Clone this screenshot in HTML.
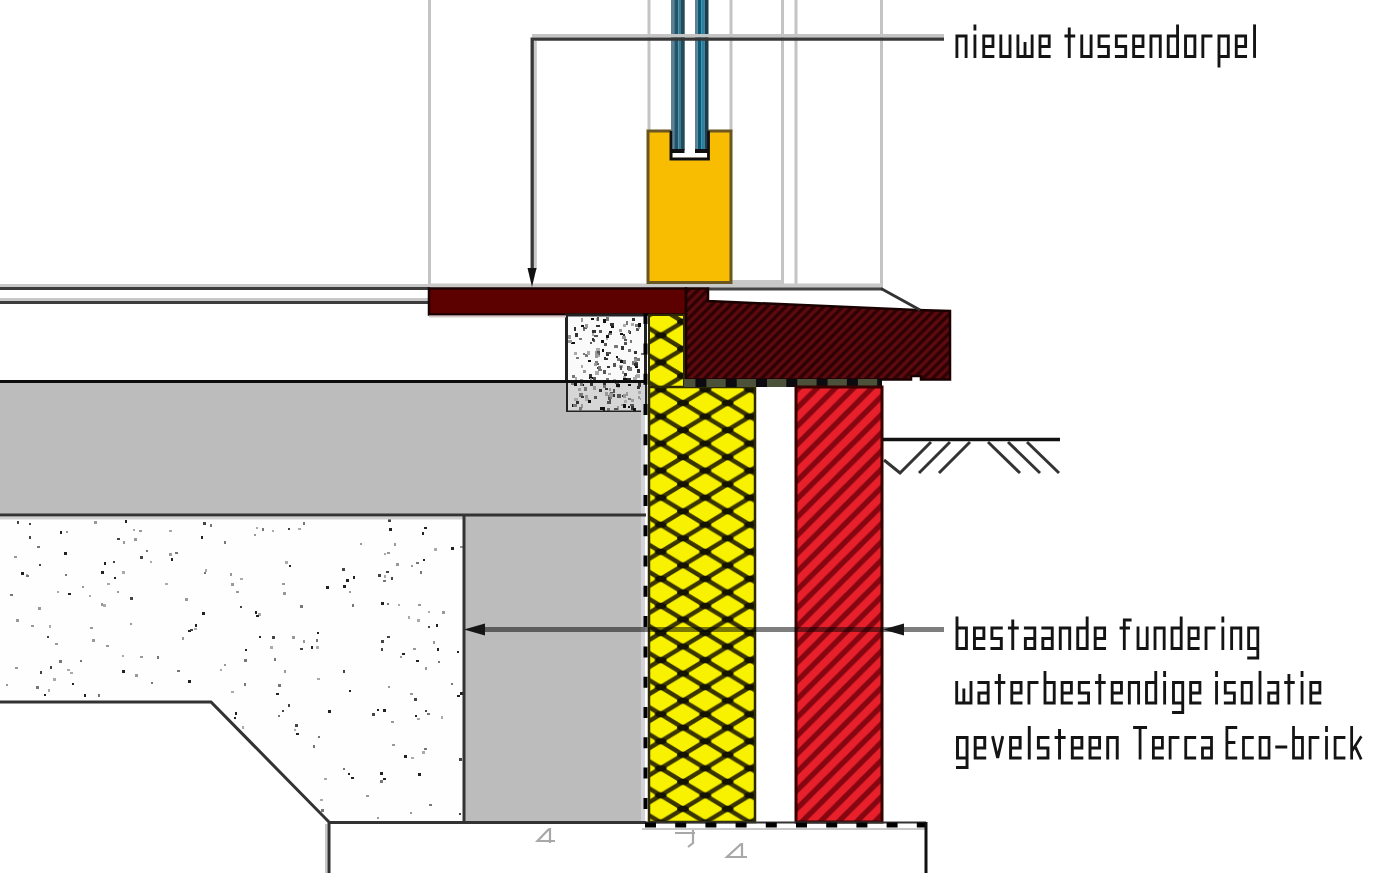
<!DOCTYPE html>
<html><head><meta charset="utf-8">
<style>
html,body{margin:0;padding:0;background:#fff;width:1400px;height:873px;overflow:hidden}
svg{display:block}
text{font-family:"Liberation Sans",sans-serif;fill:#1c1c1c}
</style></head><body>
<svg width="1400" height="873" viewBox="0 0 1400 873">
<defs>
<pattern id="ins" patternUnits="userSpaceOnUse" x="683" y="403" width="44.6" height="27.06">
<rect x="0" y="0" width="44.6" height="27.06" fill="#f8f200"/>
<path d="M-22.3,-13.53 L66.9,40.59 M66.9,-13.53 L-22.3,40.59" stroke="#3a3500" stroke-width="4.4" fill="none"/>
<g fill="#141200"><ellipse cx="0" cy="0" rx="6" ry="3.2"/><ellipse cx="44.6" cy="0" rx="6" ry="3.2"/><ellipse cx="0" cy="27.06" rx="6" ry="3.2"/><ellipse cx="44.6" cy="27.06" rx="6" ry="3.2"/><ellipse cx="22.3" cy="13.53" rx="6" ry="3.2"/></g>
</pattern>
<pattern id="brick" patternUnits="userSpaceOnUse" x="4" y="0" width="18.2" height="18.2">
<rect width="18.2" height="18.2" fill="#e7202b"/>
<path d="M-9.1,9.1 L9.1,-9.1 M-9.1,27.3 L27.3,-9.1 M9.1,27.3 L27.3,9.1" stroke="#850610" stroke-width="5.4"/>
</pattern>
<pattern id="sill" patternUnits="userSpaceOnUse" x="0" y="0" width="9.5" height="9.5">
<rect width="9.5" height="9.5" fill="#5e0a0e"/>
<path d="M-4.75,4.75 L4.75,-4.75 M-4.75,14.25 L14.25,-4.75 M4.75,14.25 L14.25,4.75" stroke="#2c0204" stroke-width="3.4"/>
</pattern>
</defs>
<rect width="1400" height="873" fill="#fff"/>

<!-- window frame gray lines -->
<g stroke="#c4c4c4" stroke-width="3" fill="none">
<line x1="429.5" y1="0" x2="429.5" y2="288"/>
<line x1="649" y1="0" x2="649" y2="131"/>
<line x1="731" y1="0" x2="731" y2="131"/>
<line x1="782.5" y1="0" x2="782.5" y2="285"/>
<line x1="796" y1="0" x2="796" y2="288"/>
<line x1="881.5" y1="0" x2="881.5" y2="288"/>
</g>
<rect x="731" y="280" width="51" height="8" fill="#c8c8c8"/>
<rect x="429" y="283.5" width="453" height="4.5" fill="#c8c8c8"/>

<!-- yellow frame block -->
<path d="M648,131 L671,131 L671,159 L708.5,159 L708.5,131 L731,131 L731,282.5 L648,282.5 Z" fill="#f8bd00" stroke="#6a5622" stroke-width="3"/>
<!-- glass -->
<rect x="671" y="0" width="3.2" height="150" fill="#5f8090"/>
<rect x="674.2" y="0" width="4.1" height="150" fill="#1f5470"/>
<rect x="678.3" y="0" width="2.7" height="150" fill="#3b7b8f"/>
<rect x="681" y="0" width="3.7" height="150" fill="#1f4b5a"/>
<rect x="695" y="0" width="2.8" height="150" fill="#5f8090"/>
<rect x="697.8" y="0" width="3.4" height="150" fill="#08597a"/>
<rect x="701.2" y="0" width="3.7" height="150" fill="#2b80a0"/>
<rect x="704.9" y="0" width="3.6" height="150" fill="#1f3c4a"/>
<rect x="670.5" y="149" width="14" height="4" fill="#101010"/>
<rect x="695" y="149" width="14" height="4" fill="#101010"/>
<path d="M671,131 V159 H708.5 V131" fill="none" stroke="#101010" stroke-width="2.5"/>
<rect x="673" y="153" width="34" height="4" fill="#fff"/>

<!-- leader top -->
<rect x="533.8" y="41" width="3" height="229" fill="#c8c8c8"/>
<rect x="532" y="34" width="412" height="3.5" fill="#c4c4c4"/>
<polyline points="944,39.2 532.2,39.2 532.2,272" stroke="#383838" stroke-width="3.3" fill="none"/>
<path d="M527.5,268 L536.5,268 L532,287 Z" fill="#111"/>

<!-- left floor lines -->
<rect x="0" y="284" width="430" height="3" fill="#c8c8c8"/>
<rect x="0" y="287" width="430" height="3" fill="#3c3c3c"/>
<rect x="0" y="298" width="430" height="3" fill="#c8c8c8"/>
<rect x="0" y="301" width="430" height="3" fill="#3c3c3c"/>

<!-- frame bottom line right of yellow -->
<rect x="708" y="287.5" width="174" height="3" fill="#444"/>

<!-- beam -->
<rect x="429" y="288.5" width="257" height="26" fill="#5c0000" stroke="#1a0000" stroke-width="2.5"/>

<!-- hatched sill -->
<path d="M686,288.5 L708,288.5 L708,301 L917,310 L950,311 L950,379.5 L921,379.5 L921,376 L911,376 L911,379.5 L686,379.5 Z" fill="url(#sill)" stroke="#1a0000" stroke-width="2.5"/>
<path d="M881,288.5 L920,310" stroke="#333" stroke-width="3"/>

<!-- small concrete block -->
<rect x="566" y="315" width="80" height="97" fill="#fafafa"/>
<rect x="566" y="382" width="80" height="30" fill="#d6d6d6"/>
<rect x="626" y="392" width="2" height="4" fill="#999"/>
<rect x="628" y="349" width="2" height="3" fill="#aaa"/>
<rect x="635" y="324" width="3" height="3" fill="#777"/>
<rect x="605" y="392" width="3" height="4" fill="#999"/>
<rect x="594" y="396" width="3" height="3" fill="#555"/>
<rect x="631" y="406" width="3" height="4" fill="#333"/>
<rect x="575" y="377" width="2" height="4" fill="#aaa"/>
<rect x="611" y="325" width="3" height="3" fill="#111"/>
<rect x="598" y="353" width="2" height="4" fill="#aaa"/>
<rect x="568" y="335" width="3" height="4" fill="#999"/>
<rect x="606" y="352" width="3" height="4" fill="#333"/>
<rect x="609" y="388" width="2" height="3" fill="#999"/>
<rect x="592" y="330" width="4" height="3" fill="#333"/>
<rect x="603" y="382" width="3" height="3" fill="#333"/>
<rect x="593" y="377" width="3" height="3" fill="#555"/>
<rect x="590" y="383" width="3" height="3" fill="#333"/>
<rect x="624" y="373" width="3" height="3" fill="#333"/>
<rect x="592" y="333" width="2" height="3" fill="#aaa"/>
<rect x="574" y="352" width="3" height="3" fill="#aaa"/>
<rect x="590" y="342" width="2" height="2" fill="#555"/>
<rect x="583" y="353" width="2" height="2" fill="#777"/>
<rect x="634" y="357" width="3" height="3" fill="#777"/>
<rect x="585" y="398" width="4" height="3" fill="#aaa"/>
<rect x="624" y="400" width="3" height="3" fill="#aaa"/>
<rect x="576" y="357" width="3" height="2" fill="#777"/>
<rect x="585" y="354" width="3" height="3" fill="#777"/>
<rect x="635" y="365" width="3" height="3" fill="#111"/>
<rect x="597" y="363" width="2" height="2" fill="#555"/>
<rect x="609" y="331" width="3" height="3" fill="#111"/>
<rect x="634" y="359" width="3" height="4" fill="#999"/>
<rect x="596" y="348" width="4" height="3" fill="#aaa"/>
<rect x="581" y="365" width="2" height="3" fill="#aaa"/>
<rect x="571" y="342" width="4" height="2" fill="#111"/>
<rect x="572" y="404" width="3" height="3" fill="#111"/>
<rect x="584" y="387" width="3" height="4" fill="#777"/>
<rect x="583" y="328" width="2" height="3" fill="#777"/>
<rect x="617" y="385" width="3" height="3" fill="#aaa"/>
<rect x="617" y="394" width="4" height="4" fill="#555"/>
<rect x="627" y="378" width="4" height="3" fill="#333"/>
<rect x="587" y="351" width="3" height="4" fill="#aaa"/>
<rect x="624" y="342" width="3" height="3" fill="#555"/>
<rect x="604" y="357" width="2" height="3" fill="#333"/>
<rect x="640" y="398" width="2" height="2" fill="#999"/>
<rect x="638" y="391" width="3" height="3" fill="#aaa"/>
<rect x="613" y="379" width="3" height="2" fill="#aaa"/>
<rect x="589" y="374" width="3" height="3" fill="#333"/>
<rect x="628" y="349" width="3" height="3" fill="#777"/>
<rect x="629" y="331" width="2" height="3" fill="#333"/>
<rect x="606" y="336" width="2" height="4" fill="#aaa"/>
<rect x="637" y="369" width="3" height="4" fill="#333"/>
<rect x="632" y="361" width="2" height="4" fill="#777"/>
<rect x="638" y="383" width="3" height="4" fill="#333"/>
<rect x="609" y="399" width="2" height="3" fill="#555"/>
<rect x="603" y="370" width="3" height="4" fill="#555"/>
<rect x="620" y="333" width="3" height="2" fill="#111"/>
<rect x="615" y="381" width="3" height="2" fill="#999"/>
<rect x="605" y="388" width="3" height="2" fill="#333"/>
<rect x="623" y="376" width="3" height="2" fill="#aaa"/>
<rect x="595" y="361" width="3" height="3" fill="#777"/>
<rect x="593" y="339" width="2" height="3" fill="#555"/>
<rect x="594" y="363" width="3" height="3" fill="#999"/>
<rect x="594" y="335" width="4" height="2" fill="#555"/>
<rect x="581" y="384" width="3" height="2" fill="#111"/>
<rect x="598" y="369" width="4" height="2" fill="#777"/>
<rect x="581" y="404" width="2" height="4" fill="#999"/>
<rect x="578" y="380" width="2" height="3" fill="#111"/>
<rect x="619" y="359" width="3" height="2" fill="#aaa"/>
<rect x="581" y="319" width="2" height="2" fill="#555"/>
<rect x="636" y="328" width="3" height="3" fill="#555"/>
<rect x="581" y="318" width="2" height="4" fill="#999"/>
<rect x="617" y="406" width="2" height="4" fill="#999"/>
<rect x="608" y="395" width="4" height="4" fill="#777"/>
<rect x="571" y="381" width="3" height="4" fill="#777"/>
<rect x="610" y="323" width="4" height="3" fill="#333"/>
<rect x="616" y="356" width="2" height="2" fill="#111"/>
<rect x="583" y="327" width="4" height="2" fill="#555"/>
<rect x="624" y="339" width="3" height="2" fill="#555"/>
<rect x="628" y="384" width="3" height="2" fill="#555"/>
<rect x="616" y="384" width="4" height="3" fill="#111"/>
<rect x="631" y="323" width="3" height="3" fill="#aaa"/>
<rect x="614" y="408" width="4" height="2" fill="#555"/>
<rect x="595" y="371" width="4" height="4" fill="#aaa"/>
<rect x="579" y="409" width="2" height="3" fill="#aaa"/>
<rect x="579" y="393" width="4" height="4" fill="#777"/>
<rect x="642" y="391" width="3" height="3" fill="#555"/>
<rect x="622" y="395" width="3" height="2" fill="#333"/>
<rect x="614" y="345" width="4" height="3" fill="#777"/>
<rect x="597" y="351" width="3" height="4" fill="#555"/>
<rect x="621" y="346" width="3" height="4" fill="#333"/>
<rect x="613" y="394" width="2" height="3" fill="#333"/>
<rect x="631" y="399" width="3" height="3" fill="#999"/>
<rect x="621" y="404" width="3" height="2" fill="#999"/>
<rect x="610" y="392" width="3" height="3" fill="#555"/>
<rect x="615" y="381" width="4" height="3" fill="#555"/>
<rect x="597" y="367" width="3" height="2" fill="#333"/>
<rect x="598" y="366" width="3" height="3" fill="#777"/>
<rect x="606" y="335" width="3" height="3" fill="#111"/>
<rect x="580" y="383" width="3" height="3" fill="#777"/>
<rect x="628" y="398" width="3" height="2" fill="#777"/>
<rect x="596" y="325" width="4" height="2" fill="#333"/>
<rect x="591" y="318" width="3" height="2" fill="#111"/>
<rect x="635" y="362" width="3" height="3" fill="#555"/>
<rect x="600" y="407" width="3" height="3" fill="#111"/>
<rect x="596" y="318" width="2" height="3" fill="#aaa"/>
<rect x="603" y="407" width="2" height="4" fill="#111"/>
<rect x="623" y="324" width="3" height="3" fill="#aaa"/>
<rect x="573" y="404" width="4" height="3" fill="#777"/>
<rect x="634" y="351" width="3" height="3" fill="#333"/>
<rect x="569" y="340" width="3" height="2" fill="#999"/>
<rect x="638" y="396" width="2" height="3" fill="#999"/>
<rect x="623" y="378" width="4" height="2" fill="#111"/>
<rect x="578" y="388" width="3" height="3" fill="#999"/>
<rect x="613" y="389" width="2" height="4" fill="#555"/>
<rect x="596" y="353" width="3" height="4" fill="#777"/>
<rect x="579" y="338" width="3" height="2" fill="#777"/>
<rect x="623" y="334" width="2" height="3" fill="#333"/>
<rect x="572" y="375" width="3" height="3" fill="#777"/>
<rect x="597" y="317" width="2" height="4" fill="#555"/>
<rect x="592" y="338" width="2" height="3" fill="#333"/>
<rect x="593" y="386" width="3" height="4" fill="#999"/>
<rect x="637" y="358" width="3" height="3" fill="#777"/>
<rect x="599" y="330" width="3" height="3" fill="#555"/>
<rect x="630" y="340" width="2" height="3" fill="#777"/>
<rect x="638" y="326" width="2" height="3" fill="#999"/>
<rect x="604" y="343" width="3" height="3" fill="#555"/>
<rect x="601" y="340" width="3" height="3" fill="#111"/>
<rect x="597" y="355" width="3" height="2" fill="#aaa"/>
<rect x="617" y="358" width="3" height="3" fill="#777"/>
<rect x="608" y="333" width="4" height="2" fill="#777"/>
<rect x="583" y="370" width="3" height="3" fill="#999"/>
<rect x="628" y="384" width="3" height="2" fill="#111"/>
<rect x="637" y="386" width="3" height="3" fill="#333"/>
<rect x="577" y="380" width="3" height="3" fill="#333"/>
<rect x="608" y="397" width="2" height="3" fill="#555"/>
<rect x="589" y="377" width="4" height="2" fill="#111"/>
<rect x="599" y="389" width="3" height="3" fill="#333"/>
<rect x="581" y="396" width="3" height="2" fill="#333"/>
<rect x="622" y="371" width="2" height="3" fill="#999"/>
<rect x="641" y="409" width="2" height="2" fill="#555"/>
<rect x="623" y="394" width="3" height="4" fill="#999"/>
<rect x="626" y="321" width="2" height="4" fill="#777"/>
<rect x="607" y="366" width="3" height="2" fill="#333"/>
<rect x="581" y="325" width="3" height="2" fill="#111"/>
<rect x="574" y="383" width="3" height="3" fill="#111"/>
<rect x="633" y="377" width="4" height="3" fill="#aaa"/>
<rect x="602" y="349" width="2" height="3" fill="#111"/>
<rect x="588" y="360" width="3" height="2" fill="#111"/>
<rect x="576" y="401" width="3" height="3" fill="#333"/>
<rect x="620" y="360" width="4" height="3" fill="#111"/>
<rect x="641" y="353" width="4" height="2" fill="#777"/>
<rect x="595" y="354" width="3" height="4" fill="#999"/>
<rect x="630" y="404" width="4" height="2" fill="#555"/>
<rect x="607" y="408" width="3" height="3" fill="#777"/>
<rect x="575" y="333" width="3" height="4" fill="#333"/>
<rect x="606" y="317" width="3" height="4" fill="#777"/>
<rect x="628" y="406" width="2" height="2" fill="#111"/>
<rect x="635" y="375" width="3" height="2" fill="#999"/>
<rect x="574" y="327" width="2" height="4" fill="#333"/>
<rect x="590" y="378" width="2" height="2" fill="#999"/>
<rect x="638" y="323" width="3" height="4" fill="#111"/>
<rect x="607" y="401" width="4" height="3" fill="#555"/>
<rect x="585" y="324" width="3" height="4" fill="#999"/>
<rect x="622" y="336" width="4" height="3" fill="#999"/>
<rect x="623" y="360" width="3" height="4" fill="#777"/>
<rect x="632" y="318" width="3" height="3" fill="#333"/>
<rect x="607" y="352" width="4" height="2" fill="#555"/>
<rect x="579" y="407" width="3" height="3" fill="#777"/>
<rect x="588" y="400" width="3" height="3" fill="#111"/>
<rect x="628" y="330" width="2" height="3" fill="#777"/>
<rect x="619" y="365" width="4" height="3" fill="#aaa"/>
<rect x="627" y="366" width="3" height="4" fill="#555"/>
<rect x="619" y="329" width="3" height="3" fill="#999"/>
<rect x="574" y="398" width="4" height="3" fill="#aaa"/>
<rect x="623" y="404" width="3" height="4" fill="#111"/>
<rect x="613" y="363" width="3" height="4" fill="#555"/>
<rect x="636" y="374" width="4" height="4" fill="#aaa"/>
<rect x="603" y="385" width="3" height="3" fill="#777"/>
<rect x="608" y="373" width="3" height="2" fill="#aaa"/>
<rect x="634" y="363" width="4" height="3" fill="#333"/>
<rect x="609" y="393" width="4" height="4" fill="#999"/>
<rect x="585" y="395" width="3" height="3" fill="#999"/>
<rect x="633" y="408" width="3" height="4" fill="#111"/>
<rect x="568" y="340" width="4" height="3" fill="#999"/>
<rect x="628" y="367" width="4" height="4" fill="#777"/>
<rect x="603" y="319" width="3" height="4" fill="#111"/>
<rect x="620" y="366" width="2" height="4" fill="#555"/>
<rect x="606" y="378" width="3" height="3" fill="#777"/>
<rect x="605" y="358" width="3" height="2" fill="#333"/>
<rect x="595" y="351" width="2" height="3" fill="#999"/>
<rect x="580" y="379" width="3" height="3" fill="#999"/>
<rect x="566.5" y="315" width="79" height="97" fill="none" stroke="#222" stroke-width="3"/>

<!-- gray slab -->
<rect x="0" y="383" width="566" height="132" fill="#bcbcbc"/>
<rect x="566" y="412" width="76" height="103" fill="#bcbcbc"/>
<rect x="0" y="380" width="646" height="3" fill="#0c0c0c"/>

<!-- foundation -->
<path d="M0,516 L464,516 L464,822 L329,822 L211,702 L0,702 Z" fill="#fefefe"/>
<rect x="150" y="561" width="2" height="2" fill="#aaa"/>
<rect x="44" y="694" width="2" height="2" fill="#222"/>
<rect x="201" y="536" width="2" height="3" fill="#222"/>
<rect x="384" y="553" width="2" height="2" fill="#aaa"/>
<rect x="272" y="530" width="2" height="2" fill="#aaa"/>
<rect x="398" y="604" width="2" height="2" fill="#aaa"/>
<rect x="84" y="694" width="2" height="3" fill="#222"/>
<rect x="254" y="534" width="2" height="2" fill="#999"/>
<rect x="316" y="646" width="3" height="3" fill="#aaa"/>
<rect x="428" y="626" width="2" height="2" fill="#444"/>
<rect x="38" y="607" width="3" height="3" fill="#999"/>
<rect x="55" y="643" width="3" height="2" fill="#999"/>
<rect x="36" y="686" width="3" height="3" fill="#777"/>
<rect x="276" y="693" width="3" height="2" fill="#222"/>
<rect x="438" y="661" width="2" height="2" fill="#777"/>
<rect x="381" y="602" width="3" height="3" fill="#222"/>
<rect x="436" y="624" width="2" height="3" fill="#222"/>
<rect x="101" y="603" width="2" height="3" fill="#999"/>
<rect x="425" y="667" width="2" height="3" fill="#999"/>
<rect x="380" y="780" width="3" height="3" fill="#777"/>
<rect x="317" y="632" width="2" height="2" fill="#222"/>
<rect x="82" y="586" width="2" height="2" fill="#999"/>
<rect x="386" y="571" width="3" height="2" fill="#444"/>
<rect x="194" y="628" width="3" height="2" fill="#aaa"/>
<rect x="441" y="716" width="2" height="3" fill="#aaa"/>
<rect x="182" y="637" width="2" height="3" fill="#999"/>
<rect x="29" y="536" width="2" height="3" fill="#444"/>
<rect x="48" y="689" width="2" height="3" fill="#aaa"/>
<rect x="285" y="561" width="3" height="3" fill="#aaa"/>
<rect x="169" y="553" width="3" height="3" fill="#999"/>
<rect x="224" y="541" width="2" height="3" fill="#777"/>
<rect x="240" y="578" width="3" height="2" fill="#aaa"/>
<rect x="424" y="748" width="3" height="2" fill="#777"/>
<rect x="165" y="583" width="3" height="2" fill="#aaa"/>
<rect x="377" y="817" width="2" height="2" fill="#999"/>
<rect x="343" y="585" width="3" height="3" fill="#222"/>
<rect x="459" y="758" width="3" height="3" fill="#444"/>
<rect x="321" y="809" width="3" height="3" fill="#777"/>
<rect x="37" y="546" width="3" height="2" fill="#777"/>
<rect x="418" y="773" width="3" height="3" fill="#222"/>
<rect x="387" y="552" width="3" height="2" fill="#999"/>
<rect x="413" y="648" width="3" height="2" fill="#999"/>
<rect x="39" y="564" width="2" height="2" fill="#444"/>
<rect x="274" y="658" width="2" height="3" fill="#777"/>
<rect x="72" y="683" width="2" height="2" fill="#222"/>
<rect x="383" y="580" width="3" height="2" fill="#777"/>
<rect x="151" y="682" width="2" height="2" fill="#777"/>
<rect x="417" y="718" width="3" height="2" fill="#aaa"/>
<rect x="70" y="672" width="3" height="2" fill="#aaa"/>
<rect x="80" y="660" width="2" height="2" fill="#777"/>
<rect x="317" y="678" width="3" height="2" fill="#aaa"/>
<rect x="26" y="574" width="2" height="2" fill="#aaa"/>
<rect x="210" y="524" width="2" height="3" fill="#777"/>
<rect x="284" y="670" width="2" height="3" fill="#999"/>
<rect x="236" y="591" width="3" height="2" fill="#999"/>
<rect x="64" y="552" width="3" height="3" fill="#222"/>
<rect x="311" y="646" width="2" height="3" fill="#222"/>
<rect x="416" y="562" width="3" height="2" fill="#777"/>
<rect x="410" y="812" width="2" height="2" fill="#999"/>
<rect x="411" y="565" width="2" height="2" fill="#999"/>
<rect x="195" y="624" width="2" height="3" fill="#222"/>
<rect x="157" y="656" width="2" height="3" fill="#777"/>
<rect x="240" y="606" width="2" height="2" fill="#444"/>
<rect x="451" y="547" width="3" height="3" fill="#222"/>
<rect x="420" y="571" width="2" height="3" fill="#777"/>
<rect x="188" y="680" width="3" height="3" fill="#222"/>
<rect x="125" y="520" width="2" height="3" fill="#222"/>
<rect x="282" y="583" width="3" height="2" fill="#999"/>
<rect x="288" y="528" width="2" height="2" fill="#444"/>
<rect x="122" y="571" width="3" height="3" fill="#aaa"/>
<rect x="352" y="604" width="2" height="3" fill="#777"/>
<rect x="17" y="521" width="2" height="3" fill="#444"/>
<rect x="434" y="548" width="3" height="3" fill="#aaa"/>
<rect x="387" y="636" width="3" height="2" fill="#444"/>
<rect x="328" y="710" width="3" height="3" fill="#222"/>
<rect x="388" y="519" width="3" height="3" fill="#444"/>
<rect x="177" y="670" width="3" height="2" fill="#777"/>
<rect x="21" y="572" width="3" height="3" fill="#222"/>
<rect x="451" y="683" width="2" height="2" fill="#777"/>
<rect x="101" y="571" width="3" height="3" fill="#222"/>
<rect x="220" y="669" width="2" height="2" fill="#aaa"/>
<rect x="360" y="543" width="2" height="2" fill="#999"/>
<rect x="272" y="636" width="3" height="3" fill="#444"/>
<rect x="396" y="563" width="3" height="3" fill="#999"/>
<rect x="298" y="528" width="3" height="2" fill="#aaa"/>
<rect x="349" y="690" width="2" height="2" fill="#222"/>
<rect x="14" y="556" width="3" height="2" fill="#999"/>
<rect x="388" y="686" width="2" height="2" fill="#999"/>
<rect x="122" y="655" width="2" height="2" fill="#aaa"/>
<rect x="117" y="538" width="3" height="2" fill="#444"/>
<rect x="133" y="529" width="2" height="2" fill="#aaa"/>
<rect x="68" y="593" width="3" height="2" fill="#222"/>
<rect x="224" y="664" width="2" height="2" fill="#999"/>
<rect x="135" y="674" width="3" height="3" fill="#999"/>
<rect x="255" y="611" width="2" height="3" fill="#222"/>
<rect x="134" y="538" width="3" height="3" fill="#999"/>
<rect x="98" y="694" width="2" height="3" fill="#777"/>
<rect x="326" y="586" width="3" height="3" fill="#222"/>
<rect x="316" y="639" width="2" height="3" fill="#777"/>
<rect x="175" y="552" width="3" height="2" fill="#777"/>
<rect x="348" y="773" width="2" height="2" fill="#222"/>
<rect x="418" y="604" width="3" height="2" fill="#999"/>
<rect x="351" y="777" width="3" height="2" fill="#222"/>
<rect x="387" y="603" width="2" height="2" fill="#777"/>
<rect x="202" y="612" width="3" height="3" fill="#222"/>
<rect x="377" y="709" width="2" height="2" fill="#222"/>
<rect x="433" y="641" width="2" height="3" fill="#999"/>
<rect x="59" y="660" width="3" height="3" fill="#777"/>
<rect x="303" y="640" width="2" height="3" fill="#999"/>
<rect x="259" y="636" width="2" height="2" fill="#222"/>
<rect x="231" y="583" width="3" height="3" fill="#999"/>
<rect x="65" y="574" width="2" height="2" fill="#777"/>
<rect x="258" y="613" width="3" height="3" fill="#aaa"/>
<rect x="94" y="521" width="3" height="3" fill="#999"/>
<rect x="346" y="579" width="3" height="3" fill="#222"/>
<rect x="231" y="691" width="3" height="2" fill="#aaa"/>
<rect x="394" y="543" width="2" height="3" fill="#999"/>
<rect x="300" y="648" width="3" height="2" fill="#444"/>
<rect x="416" y="660" width="3" height="2" fill="#222"/>
<rect x="383" y="778" width="3" height="2" fill="#222"/>
<rect x="104" y="562" width="2" height="3" fill="#222"/>
<rect x="256" y="527" width="2" height="2" fill="#aaa"/>
<rect x="427" y="713" width="3" height="2" fill="#777"/>
<rect x="245" y="649" width="2" height="2" fill="#222"/>
<rect x="89" y="595" width="2" height="2" fill="#aaa"/>
<rect x="140" y="656" width="3" height="2" fill="#999"/>
<rect x="244" y="683" width="2" height="3" fill="#777"/>
<rect x="26" y="575" width="3" height="2" fill="#777"/>
<rect x="106" y="645" width="3" height="2" fill="#999"/>
<rect x="16" y="619" width="3" height="3" fill="#999"/>
<rect x="343" y="670" width="2" height="3" fill="#444"/>
<rect x="107" y="583" width="3" height="2" fill="#aaa"/>
<rect x="230" y="573" width="2" height="3" fill="#999"/>
<rect x="422" y="532" width="2" height="3" fill="#222"/>
<rect x="66" y="531" width="2" height="2" fill="#999"/>
<rect x="146" y="550" width="2" height="2" fill="#777"/>
<rect x="244" y="659" width="3" height="3" fill="#777"/>
<rect x="457" y="651" width="2" height="2" fill="#222"/>
<rect x="130" y="623" width="2" height="2" fill="#999"/>
<rect x="381" y="648" width="2" height="3" fill="#444"/>
<rect x="90" y="627" width="3" height="2" fill="#999"/>
<rect x="188" y="630" width="3" height="2" fill="#222"/>
<rect x="417" y="619" width="3" height="3" fill="#aaa"/>
<rect x="320" y="799" width="3" height="2" fill="#aaa"/>
<rect x="425" y="710" width="2" height="2" fill="#444"/>
<rect x="366" y="795" width="3" height="2" fill="#999"/>
<rect x="343" y="768" width="2" height="2" fill="#777"/>
<rect x="400" y="656" width="2" height="2" fill="#999"/>
<rect x="349" y="591" width="2" height="2" fill="#999"/>
<rect x="256" y="615" width="3" height="2" fill="#222"/>
<rect x="123" y="541" width="2" height="3" fill="#999"/>
<rect x="459" y="813" width="2" height="2" fill="#444"/>
<rect x="313" y="745" width="2" height="3" fill="#777"/>
<rect x="130" y="597" width="3" height="3" fill="#444"/>
<rect x="204" y="572" width="2" height="2" fill="#777"/>
<rect x="410" y="693" width="3" height="2" fill="#999"/>
<rect x="117" y="591" width="2" height="2" fill="#999"/>
<rect x="460" y="546" width="3" height="2" fill="#999"/>
<rect x="424" y="527" width="3" height="2" fill="#222"/>
<rect x="384" y="575" width="2" height="3" fill="#aaa"/>
<rect x="402" y="653" width="3" height="2" fill="#222"/>
<rect x="296" y="733" width="3" height="2" fill="#222"/>
<rect x="171" y="558" width="2" height="3" fill="#222"/>
<rect x="278" y="715" width="2" height="2" fill="#777"/>
<rect x="190" y="629" width="3" height="2" fill="#444"/>
<rect x="15" y="667" width="3" height="2" fill="#999"/>
<rect x="47" y="636" width="2" height="2" fill="#444"/>
<rect x="185" y="598" width="3" height="3" fill="#999"/>
<rect x="442" y="611" width="3" height="3" fill="#999"/>
<rect x="372" y="713" width="3" height="3" fill="#444"/>
<rect x="437" y="648" width="2" height="3" fill="#222"/>
<rect x="381" y="640" width="3" height="3" fill="#444"/>
<rect x="60" y="531" width="2" height="3" fill="#222"/>
<rect x="342" y="568" width="3" height="3" fill="#444"/>
<rect x="50" y="666" width="2" height="3" fill="#444"/>
<rect x="389" y="528" width="3" height="3" fill="#222"/>
<rect x="282" y="710" width="2" height="2" fill="#444"/>
<rect x="288" y="704" width="2" height="3" fill="#444"/>
<rect x="262" y="528" width="2" height="3" fill="#777"/>
<rect x="57" y="591" width="2" height="2" fill="#aaa"/>
<rect x="391" y="721" width="3" height="2" fill="#999"/>
<rect x="278" y="684" width="3" height="3" fill="#777"/>
<rect x="270" y="646" width="3" height="3" fill="#aaa"/>
<rect x="203" y="522" width="3" height="3" fill="#444"/>
<rect x="380" y="772" width="3" height="3" fill="#222"/>
<rect x="31" y="625" width="3" height="2" fill="#999"/>
<rect x="234" y="717" width="2" height="2" fill="#222"/>
<rect x="428" y="611" width="2" height="2" fill="#aaa"/>
<rect x="415" y="715" width="2" height="2" fill="#222"/>
<rect x="378" y="574" width="3" height="3" fill="#444"/>
<rect x="318" y="736" width="2" height="2" fill="#777"/>
<rect x="283" y="592" width="3" height="3" fill="#999"/>
<rect x="67" y="669" width="3" height="2" fill="#aaa"/>
<rect x="122" y="670" width="3" height="3" fill="#222"/>
<rect x="92" y="639" width="3" height="3" fill="#999"/>
<rect x="53" y="678" width="3" height="3" fill="#aaa"/>
<rect x="242" y="726" width="2" height="3" fill="#aaa"/>
<rect x="292" y="636" width="3" height="3" fill="#999"/>
<rect x="460" y="692" width="3" height="3" fill="#222"/>
<rect x="205" y="569" width="2" height="3" fill="#aaa"/>
<rect x="457" y="695" width="3" height="2" fill="#222"/>
<rect x="103" y="604" width="3" height="3" fill="#aaa"/>
<rect x="169" y="530" width="3" height="2" fill="#aaa"/>
<rect x="303" y="522" width="2" height="3" fill="#777"/>
<rect x="49" y="625" width="2" height="3" fill="#aaa"/>
<rect x="140" y="556" width="3" height="3" fill="#444"/>
<rect x="113" y="561" width="2" height="2" fill="#444"/>
<rect x="404" y="755" width="3" height="3" fill="#222"/>
<rect x="414" y="698" width="3" height="3" fill="#444"/>
<rect x="29" y="523" width="2" height="2" fill="#444"/>
<rect x="6" y="684" width="2" height="2" fill="#999"/>
<rect x="235" y="712" width="2" height="3" fill="#222"/>
<rect x="139" y="530" width="3" height="2" fill="#999"/>
<rect x="392" y="744" width="3" height="2" fill="#999"/>
<rect x="429" y="804" width="3" height="2" fill="#777"/>
<rect x="295" y="724" width="3" height="3" fill="#444"/>
<rect x="40" y="671" width="2" height="3" fill="#444"/>
<rect x="391" y="577" width="2" height="3" fill="#444"/>
<rect x="408" y="616" width="2" height="3" fill="#aaa"/>
<rect x="324" y="778" width="3" height="2" fill="#aaa"/>
<rect x="411" y="757" width="3" height="2" fill="#aaa"/>
<rect x="423" y="559" width="2" height="2" fill="#222"/>
<rect x="289" y="565" width="2" height="2" fill="#222"/>
<rect x="294" y="729" width="2" height="2" fill="#aaa"/>
<rect x="353" y="576" width="2" height="3" fill="#222"/>
<rect x="114" y="577" width="2" height="2" fill="#222"/>
<rect x="383" y="709" width="3" height="3" fill="#222"/>
<rect x="300" y="605" width="3" height="3" fill="#777"/>
<rect x="10" y="594" width="3" height="2" fill="#777"/>
<rect x="422" y="751" width="3" height="3" fill="#aaa"/>
<rect x="0" y="517" width="464" height="2.5" fill="#d0d0d0"/>
<rect x="464" y="516" width="178" height="306" fill="#bcbcbc"/>
<rect x="325" y="824" width="2.5" height="49" fill="#c8c8c8"/>
<rect x="429" y="315.5" width="137" height="2" fill="#d8c8c8"/>
<rect x="641" y="383" width="4" height="439" fill="#d2d2d8"/>
<g stroke="#333" stroke-width="3" fill="none">
<line x1="0" y1="515" x2="646" y2="515"/>
<polyline points="0,702 211,702 329,822 329,873"/>
<line x1="329" y1="822.5" x2="646" y2="822.5"/>
<line x1="464" y1="515" x2="464" y2="822"/>
</g>

<!-- narrow insulation -->
<rect x="649" y="315" width="35" height="72" fill="url(#ins)" stroke="#2e2a00" stroke-width="2"/>
<!-- wide insulation -->
<rect x="649" y="387" width="106" height="435" fill="url(#ins)" stroke="#2e2a00" stroke-width="2.5"/>
<!-- band under sill -->
<rect x="684" y="379" width="198" height="8" fill="#4c523a"/>
<line x1="684" y1="383" x2="882" y2="383" stroke="#0c0c10" stroke-width="8" stroke-dasharray="11 19.3" stroke-dashoffset="-11.4"/>
<!-- brick -->
<rect x="796" y="387" width="86" height="435" fill="url(#brick)" stroke="#3a0000" stroke-width="3"/>

<!-- dashed left of insulation -->
<line x1="645.5" y1="313.1" x2="645.5" y2="822" stroke="#000" stroke-width="4" stroke-dasharray="11 19.3"/>
<!-- bottom dashed -->
<line x1="642" y1="822.5" x2="926" y2="822.5" stroke="#333" stroke-width="2"/>
<line x1="645" y1="825" x2="927" y2="825" stroke="#000" stroke-width="5" stroke-dasharray="11 19.2"/>
<rect x="642" y="828" width="284" height="2" fill="#c8c8c8"/>
<line x1="926" y1="822" x2="926" y2="873" stroke="#111" stroke-width="3"/>

<!-- gray triangles -->
<g stroke="#a8a8a8" stroke-width="2.2" fill="none">
<path d="M550,828 L550,843 M549,829 L537.5,841 L555,841"/>
<path d="M675,833 L695,833 M693,830 L693,843 L688,847"/>
<path d="M742,843 L742,857 M741,844 L727,857 L747,857"/>
</g>

<!-- ground -->
<line x1="883" y1="439.5" x2="1060" y2="439.5" stroke="#111" stroke-width="3.5"/>
<g stroke="#333" stroke-width="3" fill="none">
<polyline points="884,460 900,473 931,442"/>
<line x1="919" y1="473" x2="950" y2="442"/>
<line x1="939" y1="473" x2="970" y2="442"/>
<line x1="988" y1="442" x2="1020" y2="473"/>
<line x1="1008" y1="442" x2="1040" y2="473"/>
<line x1="1027" y1="442" x2="1059" y2="473"/>
</g>

<!-- leader bottom -->
<line x1="475" y1="629.5" x2="944" y2="629.5" stroke="#7e7e7e" stroke-width="5" style="mix-blend-mode:multiply"/>
<path d="M464,629.5 L485,623.5 L485,635.5 Z" fill="#161616"/>
<path d="M883,629.5 L904,623.5 L904,635.5 Z" fill="#161616"/>

<!-- texts -->
<g fill="none" stroke="#141414" stroke-width="3.0" stroke-linecap="square" stroke-linejoin="miter" vector-effect="non-scaling-stroke"><path transform="translate(956.90,56.4) scale(0.9486,1)" d="M0,0 V-20.5 H9.7 V0"/><path transform="translate(973.98,56.4) scale(0.9486,1)" d="M1,0 V-20.5 M1,-30.5 V-27.5"/><path transform="translate(983.75,56.4) scale(0.9486,1)" d="M9.7,0 H0 V-20.5 H9.7 V-10 H0"/><path transform="translate(1000.82,56.4) scale(0.9486,1)" d="M0,-20.5 V0 H9.7 V-20.5"/><path transform="translate(1017.90,56.4) scale(0.9486,1)" d="M0,-20.5 V0 H15 V-20.5 M7.5,0 V-13"/><path transform="translate(1040.00,56.4) scale(0.9486,1)" d="M9.7,0 H0 V-20.5 H9.7 V-10 H0"/><path transform="translate(1065.90,56.4) scale(0.9610,1)" d="M3.5,-27.5 V0 M0,-20.5 H8.2"/><path transform="translate(1081.76,56.4) scale(0.9610,1)" d="M0,-20.5 V0 H9.7 V-20.5"/><path transform="translate(1099.05,56.4) scale(0.9610,1)" d="M9.7,-20.5 H0 V-10 H9.7 V0 H0"/><path transform="translate(1116.35,56.4) scale(0.9610,1)" d="M9.7,-20.5 H0 V-10 H9.7 V0 H0"/><path transform="translate(1133.65,56.4) scale(0.9610,1)" d="M9.7,0 H0 V-20.5 H9.7 V-10 H0"/><path transform="translate(1150.95,56.4) scale(0.9610,1)" d="M0,0 V-20.5 H9.7 V0"/><path transform="translate(1168.24,56.4) scale(0.9610,1)" d="M9.7,-30.5 V0 H0 V-20.5 H9.7"/><path transform="translate(1185.54,56.4) scale(0.9610,1)" d="M0,-20.5 H9.7 V0 H0 Z"/><path transform="translate(1202.84,56.4) scale(0.9610,1)" d="M0,0 V-20.5 H8.5"/><path transform="translate(1218.98,56.4) scale(0.9610,1)" d="M0,9.6 V-20.5 H9.7 V0 H0"/><path transform="translate(1236.28,56.4) scale(0.9610,1)" d="M9.7,0 H0 V-20.5 H9.7 V-10 H0"/><path transform="translate(1253.58,56.4) scale(0.9610,1)" d="M1,-30.5 V0"/></g>
<g fill="none" stroke="#141414" stroke-width="3.0" stroke-linecap="square" stroke-linejoin="miter" vector-effect="non-scaling-stroke"><path transform="translate(957.00,648.5) scale(0.9698,1)" d="M0,-30.5 V0 H9.7 V-20.5 H0"/><path transform="translate(974.46,648.5) scale(0.9698,1)" d="M9.7,0 H0 V-20.5 H9.7 V-10 H0"/><path transform="translate(991.91,648.5) scale(0.9698,1)" d="M9.7,-20.5 H0 V-10 H9.7 V0 H0"/><path transform="translate(1009.37,648.5) scale(0.9698,1)" d="M3.5,-27.5 V0 M0,-20.5 H8.2"/><path transform="translate(1025.37,648.5) scale(0.9698,1)" d="M0,-20.5 H9.7 V0 H0 V-10 H9.7"/><path transform="translate(1042.83,648.5) scale(0.9698,1)" d="M0,-20.5 H9.7 V0 H0 V-10 H9.7"/><path transform="translate(1060.28,648.5) scale(0.9698,1)" d="M0,0 V-20.5 H9.7 V0"/><path transform="translate(1077.74,648.5) scale(0.9698,1)" d="M9.7,-30.5 V0 H0 V-20.5 H9.7"/><path transform="translate(1095.19,648.5) scale(0.9698,1)" d="M9.7,0 H0 V-20.5 H9.7 V-10 H0"/><path transform="translate(1121.00,648.5) scale(0.9448,1)" d="M3.5,0 V-28.5 H9.7 M0,-20.5 H8"/><path transform="translate(1138.01,648.5) scale(0.9448,1)" d="M0,-20.5 V0 H9.7 V-20.5"/><path transform="translate(1155.01,648.5) scale(0.9448,1)" d="M0,0 V-20.5 H9.7 V0"/><path transform="translate(1172.02,648.5) scale(0.9448,1)" d="M9.7,-30.5 V0 H0 V-20.5 H9.7"/><path transform="translate(1189.02,648.5) scale(0.9448,1)" d="M9.7,0 H0 V-20.5 H9.7 V-10 H0"/><path transform="translate(1206.03,648.5) scale(0.9448,1)" d="M0,0 V-20.5 H8.5"/><path transform="translate(1221.90,648.5) scale(0.9448,1)" d="M1,0 V-20.5 M1,-30.5 V-27.5"/><path transform="translate(1231.63,648.5) scale(0.9448,1)" d="M0,0 V-20.5 H9.7 V0"/><path transform="translate(1248.64,648.5) scale(0.9448,1)" d="M9.7,0 H0 V-20.5 H9.7 V9.6 H0"/></g>
<g fill="none" stroke="#141414" stroke-width="3.0" stroke-linecap="square" stroke-linejoin="miter" vector-effect="non-scaling-stroke"><path transform="translate(956.70,702.9) scale(0.9534,1)" d="M0,-20.5 V0 H15 V-20.5 M7.5,0 V-13"/><path transform="translate(978.91,702.9) scale(0.9534,1)" d="M0,-20.5 H9.7 V0 H0 V-10 H9.7"/><path transform="translate(996.07,702.9) scale(0.9534,1)" d="M3.5,-27.5 V0 M0,-20.5 H8.2"/><path transform="translate(1011.80,702.9) scale(0.9534,1)" d="M9.7,0 H0 V-20.5 H9.7 V-10 H0"/><path transform="translate(1028.96,702.9) scale(0.9534,1)" d="M0,0 V-20.5 H8.5"/><path transform="translate(1044.98,702.9) scale(0.9534,1)" d="M0,-30.5 V0 H9.7 V-20.5 H0"/><path transform="translate(1062.14,702.9) scale(0.9534,1)" d="M9.7,0 H0 V-20.5 H9.7 V-10 H0"/><path transform="translate(1079.30,702.9) scale(0.9534,1)" d="M9.7,-20.5 H0 V-10 H9.7 V0 H0"/><path transform="translate(1096.46,702.9) scale(0.9534,1)" d="M3.5,-27.5 V0 M0,-20.5 H8.2"/><path transform="translate(1112.19,702.9) scale(0.9534,1)" d="M9.7,0 H0 V-20.5 H9.7 V-10 H0"/><path transform="translate(1129.35,702.9) scale(0.9534,1)" d="M0,0 V-20.5 H9.7 V0"/><path transform="translate(1146.51,702.9) scale(0.9534,1)" d="M9.7,-30.5 V0 H0 V-20.5 H9.7"/><path transform="translate(1163.67,702.9) scale(0.9534,1)" d="M1,0 V-20.5 M1,-30.5 V-27.5"/><path transform="translate(1173.49,702.9) scale(0.9534,1)" d="M9.7,0 H0 V-20.5 H9.7 V9.6 H0"/><path transform="translate(1190.65,702.9) scale(0.9534,1)" d="M9.7,0 H0 V-20.5 H9.7 V-10 H0"/><path transform="translate(1215.60,702.9) scale(0.9388,1)" d="M1,0 V-20.5 M1,-30.5 V-27.5"/><path transform="translate(1225.27,702.9) scale(0.9388,1)" d="M9.7,-20.5 H0 V-10 H9.7 V0 H0"/><path transform="translate(1242.17,702.9) scale(0.9388,1)" d="M0,-20.5 H9.7 V0 H0 Z"/><path transform="translate(1259.07,702.9) scale(0.9388,1)" d="M1,-30.5 V0"/><path transform="translate(1268.74,702.9) scale(0.9388,1)" d="M0,-20.5 H9.7 V0 H0 V-10 H9.7"/><path transform="translate(1285.63,702.9) scale(0.9388,1)" d="M3.5,-27.5 V0 M0,-20.5 H8.2"/><path transform="translate(1301.12,702.9) scale(0.9388,1)" d="M1,0 V-20.5 M1,-30.5 V-27.5"/><path transform="translate(1310.79,702.9) scale(0.9388,1)" d="M9.7,0 H0 V-20.5 H9.7 V-10 H0"/></g>
<g fill="none" stroke="#141414" stroke-width="3.0" stroke-linecap="square" stroke-linejoin="miter" vector-effect="non-scaling-stroke"><path transform="translate(957.50,758) scale(0.9831,1)" d="M9.7,0 H0 V-20.5 H9.7 V9.6 H0"/><path transform="translate(975.20,758) scale(0.9831,1)" d="M9.7,0 H0 V-20.5 H9.7 V-10 H0"/><path transform="translate(992.89,758) scale(0.9831,1)" d="M0,-20.5 L4.85,0 L9.7,-20.5"/><path transform="translate(1010.59,758) scale(0.9831,1)" d="M9.7,0 H0 V-20.5 H9.7 V-10 H0"/><path transform="translate(1028.28,758) scale(0.9831,1)" d="M1,-30.5 V0"/><path transform="translate(1038.41,758) scale(0.9831,1)" d="M9.7,-20.5 H0 V-10 H9.7 V0 H0"/><path transform="translate(1056.10,758) scale(0.9831,1)" d="M3.5,-27.5 V0 M0,-20.5 H8.2"/><path transform="translate(1072.32,758) scale(0.9831,1)" d="M9.7,0 H0 V-20.5 H9.7 V-10 H0"/><path transform="translate(1090.02,758) scale(0.9831,1)" d="M9.7,0 H0 V-20.5 H9.7 V-10 H0"/><path transform="translate(1107.71,758) scale(0.9831,1)" d="M0,0 V-20.5 H9.7 V0"/><path transform="translate(1134.50,758) scale(0.9300,1)" d="M0,-30.5 H12 M6,-30.5 V0"/><path transform="translate(1153.38,758) scale(0.9300,1)" d="M9.7,0 H0 V-20.5 H9.7 V-10 H0"/><path transform="translate(1170.12,758) scale(0.9300,1)" d="M0,0 V-20.5 H8.5"/><path transform="translate(1185.74,758) scale(0.9300,1)" d="M9.7,-20.5 H0 V0 H9.7"/><path transform="translate(1202.48,758) scale(0.9300,1)" d="M0,-20.5 H9.7 V0 H0 V-10 H9.7"/><path transform="translate(1226.90,758) scale(0.9214,1)" d="M9.7,-30.5 H0 V0 H9.7 M0,-15.5 H7.699999999999999"/><path transform="translate(1243.49,758) scale(0.9214,1)" d="M9.7,-20.5 H0 V0 H9.7"/><path transform="translate(1260.07,758) scale(0.9214,1)" d="M0,-20.5 H9.7 V0 H0 Z"/><path transform="translate(1276.66,758) scale(0.9214,1)" d="M0,-11 H10"/><path transform="translate(1293.52,758) scale(0.9214,1)" d="M0,-30.5 V0 H9.7 V-20.5 H0"/><path transform="translate(1310.11,758) scale(0.9214,1)" d="M0,0 V-20.5 H8.5"/><path transform="translate(1325.59,758) scale(0.9214,1)" d="M1,0 V-20.5 M1,-30.5 V-27.5"/><path transform="translate(1335.08,758) scale(0.9214,1)" d="M9.7,-20.5 H0 V0 H9.7"/><path transform="translate(1351.66,758) scale(0.9214,1)" d="M0,-30.5 V0 M9.7,-20.5 L1,-8 M4,-11 L9.7,0"/></g>
</svg>
</body></html>
